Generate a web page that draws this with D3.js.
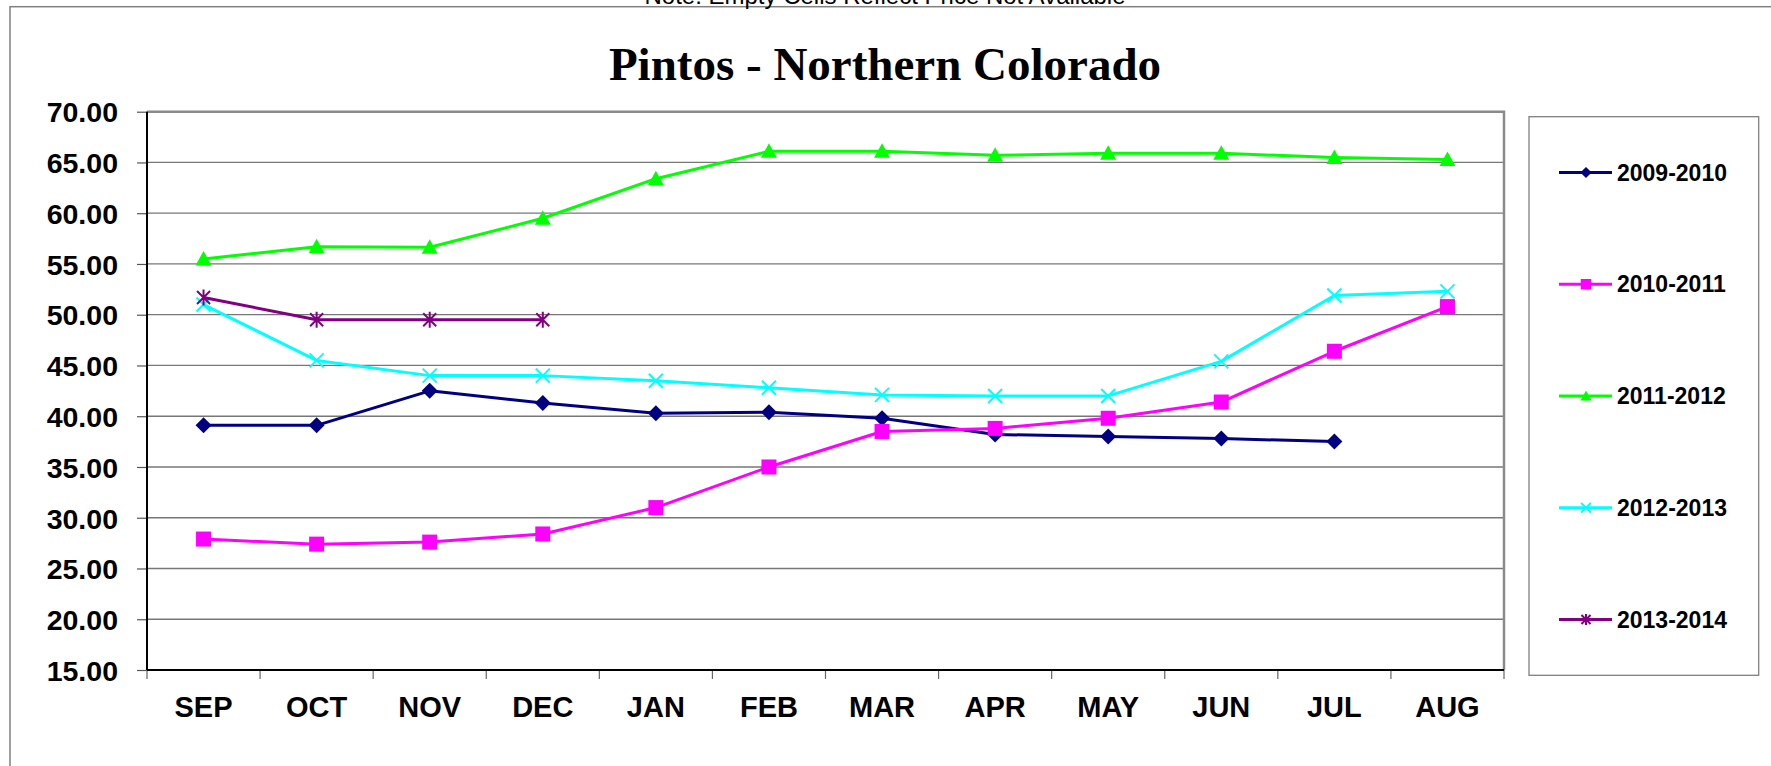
<!DOCTYPE html>
<html>
<head>
<meta charset="utf-8">
<script src="https://cdn.jsdelivr.net/npm/d3@7"></script>
<style>
  body { margin: 0; background: #fff; }
  svg { display: block; }
</style>
</head>
<body>
<div id="chart"></div>
<script>
// values
const months = ['SEP', 'OCT', 'NOV', 'DEC', 'JAN', 'FEB', 'MAR', 'APR', 'MAY', 'JUN', 'JUL', 'AUG'];
const seasons = ['2009-2010', '2010-2011', '2011-2012', '2012-2013', '2013-2014'];
const yTicks = [15, 20, 25, 30, 35, 40, 45, 50, 55, 60, 65, 70];

const s2009 = [39.1, 39.1, 42.5, 41.3, 40.3, 40.4, 39.8, 38.2, 38.0, 37.8, 37.5, null];
const s2010 = [27.9, 27.4, 27.6, 28.4, 31.0, 35.0, 38.5, 38.8, 39.8, 41.4, 46.4, 50.8];
const s2011 = [55.5, 56.7, 56.65, 59.5, 63.4, 66.1, 66.1, 65.7, 65.9, 65.9, 65.5, 65.3];
const s2012 = [51.0, 45.5, 44.0, 44.0, 43.5, 42.8, 42.1, 42.0, 42.0, 45.4, 51.9, 52.3];
const s2013 = [51.7, 49.5, 49.5, 49.5, null, null, null, null, null, null, null, null];

const seriesValues = [s2009, s2010, s2011, s2012, s2013];
const colors = ['#000080', '#FF00FF', '#00FF00', '#00FFFF', '#800080'];
const markers = ['diamond', 'square', 'triangle', 'x', 'star'];

const W = 1771, H = 766;
const margin = { left: 147, right: 267, top: 111.7, bottom: 96 };
const plotW = W - margin.left - margin.right;
const plotH = H - margin.top - margin.bottom;

const svg = d3.select('#chart').append('svg')
  .attr('width', W).attr('height', H)
  .style('font-family', 'Arial, "Liberation Sans", sans-serif');

svg.append('rect').attr('width', W).attr('height', H).attr('fill', '#fff');

// outer chart border (right/bottom run off the picture)
svg.append('rect')
  .attr('x', 10).attr('y', 6.7)
  .attr('width', W + 20).attr('height', H + 20)
  .attr('fill', 'none').attr('stroke', '#808080').attr('stroke-width', 1.5);

svg.append('text')
  .attr('x', 885).attr('y', 4)
  .attr('text-anchor', 'middle')
  .style('font-size', '24px')
  .text('Note: Empty Cells Reflect Price Not Available');

svg.append('text')
  .attr('x', 885).attr('y', 80)
  .attr('text-anchor', 'middle')
  .style('font-family', '"Liberation Serif", "Times New Roman", serif')
  .style('font-weight', 'bold')
  .style('font-size', '47px')
  .text('Pintos - Northern Colorado');

const chart = svg.append('g').attr('transform', `translate(${margin.left},${margin.top})`);

const x = d3.scalePoint().domain(months).range([0, plotW]).padding(0.5);
const xBand = d3.scaleBand().domain(months).range([0, plotW]);
const y = d3.scaleLinear().domain([15, 70]).range([plotH, 0]);

// gridlines
chart.append('g')
  .selectAll('line')
  .data(yTicks.slice(1))
  .join('line')
  .attr('x1', 0).attr('x2', plotW)
  .attr('y1', d => y(d)).attr('y2', d => y(d))
  .attr('stroke', '#777').attr('stroke-width', 1.3);

// plot border (top/right grey)
chart.append('path')
  .attr('d', `M0,${y(70)} H${plotW} V${plotH}`)
  .attr('fill', 'none').attr('stroke', '#8a8a8a').attr('stroke-width', 2.5);

// y axis
const yAxis = d3.axisLeft(y).tickValues(yTicks).tickSize(10).tickFormat(d3.format('.2f'));
const yAxisG = chart.append('g').call(yAxis);
yAxisG.select('.domain').remove();
yAxisG.selectAll('.tick line').attr('stroke', '#555').attr('stroke-width', 1.2);
yAxisG.selectAll('.tick text')
  .attr('x', -29)
  .attr('dy', '0.36em')
  .style('font-size', '28.5px').style('font-weight', 'bold')
  .style('font-family', 'Arial, "Liberation Sans", sans-serif')
  .attr('fill', '#000');

// x axis ticks at category boundaries
const xTicksG = chart.append('g');
xTicksG.selectAll('line')
  .data(months.map(m => xBand(m)).concat([plotW]))
  .join('line')
  .attr('x1', d => d).attr('x2', d => d)
  .attr('y1', plotH).attr('y2', plotH + 9)
  .attr('stroke', '#666').attr('stroke-width', 1.2);

xTicksG.selectAll('text')
  .data(months)
  .join('text')
  .attr('x', d => x(d))
  .attr('y', plotH + 47)
  .attr('text-anchor', 'middle')
  .style('font-size', '29px').style('font-weight', 'bold')
  .text(d => d);

// axis lines
chart.append('line')
  .attr('x1', 0).attr('x2', 0).attr('y1', 0).attr('y2', plotH)
  .attr('stroke', '#000').attr('stroke-width', 2);
chart.append('line')
  .attr('x1', 0).attr('x2', plotW).attr('y1', plotH).attr('y2', plotH)
  .attr('stroke', '#000').attr('stroke-width', 2);

function drawMarker(g, type, color, s) {
  if (type === 'diamond') {
    g.append('path').attr('d', `M0,${-8 * s} L${8 * s},0 L0,${8 * s} L${-8 * s},0Z`).attr('fill', color);
  } else if (type === 'square') {
    g.append('rect').attr('x', -7.5 * s).attr('y', -7.5 * s).attr('width', 15 * s).attr('height', 15 * s).attr('fill', color);
  } else if (type === 'triangle') {
    g.append('path').attr('d', `M0,${-8 * s} L${8 * s},${6.5 * s} L${-8 * s},${6.5 * s}Z`).attr('fill', color);
  } else if (type === 'x') {
    g.append('path').attr('d', `M${-7 * s},${-7 * s} L${7 * s},${7 * s} M${7 * s},${-7 * s} L${-7 * s},${7 * s}`)
      .attr('stroke', color).attr('stroke-width', 2).attr('fill', 'none');
  } else if (type === 'star') {
    g.append('path').attr('d', `M${-6.5 * s},${-6.5 * s} L${6.5 * s},${6.5 * s} M${6.5 * s},${-6.5 * s} L${-6.5 * s},${6.5 * s} M0,${-8 * s} L0,${8 * s}`)
      .attr('stroke', color).attr('stroke-width', 2).attr('fill', 'none');
  }
}

const line = d3.line()
  .defined(d => d.v !== null)
  .x(d => x(d.m))
  .y(d => y(d.v));

seriesValues.forEach((vals, i) => {
  const pts = vals.map((v, j) => ({ m: months[j], v: v }));
  chart.append('path')
    .datum(pts)
    .attr('d', line)
    .attr('fill', 'none')
    .attr('stroke', colors[i])
    .attr('stroke-width', 3)
    .attr('stroke-linejoin', 'round');
  pts.filter(d => d.v !== null).forEach(d => {
    const g = chart.append('g').attr('transform', `translate(${x(d.m)},${y(d.v)})`);
    drawMarker(g, markers[i], colors[i], 1);
  });
});

// legend
const legend = svg.append('g');
legend.append('rect')
  .attr('x', 1529).attr('y', 116.7)
  .attr('width', 229.7).attr('height', 558.6)
  .attr('fill', '#fff').attr('stroke', '#808080').attr('stroke-width', 1.3);

const legendY = d3.scalePoint().domain(seasons).range([172.5, 619.5]);
seasons.forEach((s, i) => {
  const cy = legendY(s);
  legend.append('line')
    .attr('x1', 1559).attr('x2', 1612).attr('y1', cy).attr('y2', cy)
    .attr('stroke', colors[i]).attr('stroke-width', 3);
  const g = legend.append('g').attr('transform', `translate(1586,${cy})`);
  drawMarker(g, markers[i], colors[i], 0.7);
  legend.append('text')
    .attr('x', 1617).attr('y', cy + 8)
    .style('font-size', '23px').style('font-weight', 'bold')
    .text(s);
});
</script>
</body>
</html>
